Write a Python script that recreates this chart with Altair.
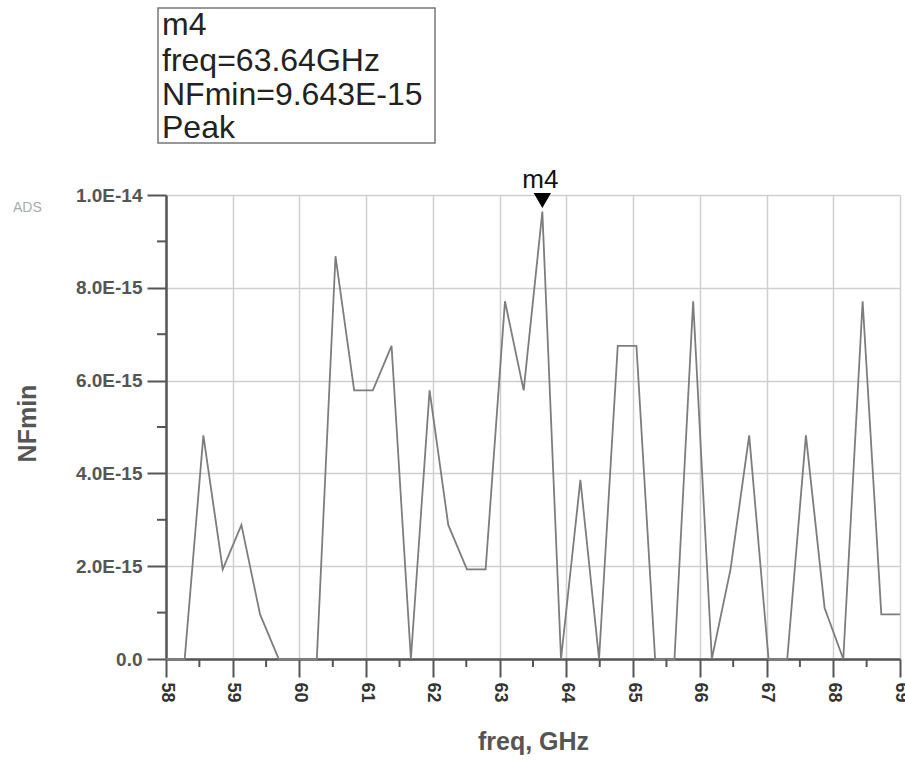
import altair as alt
import pandas as pd

# ---- data ----
freq_ghz = [58.00, 58.28, 58.56, 58.85, 59.13, 59.41, 59.69, 59.97, 60.26, 60.54,
            60.82, 61.10, 61.38, 61.67, 61.95, 62.23, 62.51, 62.79, 63.08, 63.36,
            63.64, 63.92, 64.21, 64.49, 64.77, 65.05, 65.33, 65.62, 65.90, 66.18,
            66.46, 66.74, 67.03, 67.31, 67.59, 67.87, 68.15, 68.44, 68.72, 69.00]
nfmin = [0.0, 0.0, 4.82e-15, 1.93e-15, 2.89e-15, 0.96e-15, 0.0, 0.0, 0.0, 8.68e-15,
         5.79e-15, 5.79e-15, 6.75e-15, 0.0, 5.79e-15, 2.89e-15, 1.93e-15, 1.93e-15, 7.71e-15, 5.79e-15,
         9.643e-15, 0.0, 3.86e-15, 0.0, 6.75e-15, 6.75e-15, 0.0, 0.0, 7.71e-15, 0.0,
         1.93e-15, 4.82e-15, 0.0, 0.0, 4.82e-15, 1.1e-15, 0.0, 7.71e-15, 0.96e-15, 0.96e-15]

x_ticks = [58, 59, 60, 61, 62, 63, 64, 65, 66, 67, 68, 69]
x_minor = [58.5, 59.5, 60.5, 61.5, 62.5, 63.5, 64.5, 65.5, 66.5, 67.5, 68.5]
y_ticks = [0.0, 2e-15, 4e-15, 6e-15, 8e-15, 1e-14]
y_minor = [1e-15, 3e-15, 5e-15, 7e-15, 9e-15]

marker_name = "m4"
marker_freq = [63.64]
marker_value = [9.643e-15]
box_lines = ["m4", "freq=63.64GHz", "NFmin=9.643E-15", "Peak"]

FONT = "Liberation Sans"

df = pd.DataFrame({"freq": freq_ghz, "nf": nfmin})

xscale = alt.Scale(domain=[58, 69], nice=False, zero=False)
yscale = alt.Scale(domain=[0, 1e-14], nice=False, zero=False)

xaxis = alt.Axis(
    values=x_ticks, format="d", labelAngle=90, labelAlign="center", labelBaseline="middle",
    labelFontSize=18, labelFontWeight="bold", labelColor="#333", labelPadding=15,
    labelFlush=False, labelOverlap=False,
    tickSize=18, tickColor="#555", tickWidth=2,
    domainColor="#555", domainWidth=2.5,
    grid=True, gridColor="#cfcfcf", gridWidth=1.5,
    title="freq, GHz", titleFontSize=25, titleFontWeight="bold", titleColor="#555",
    titleX=367, titleY=82, titleAlign="center", titleBaseline="middle",
)
yaxis = alt.Axis(
    values=y_ticks,
    labelExpr="datum.value == 0 ? '0.0' : upper(format(datum.value, '.1e'))",
    labelFontSize=19, labelFontWeight="bold", labelColor="#555", labelPadding=5,
    labelFlush=False, labelOverlap=False,
    tickSize=19, tickColor="#555", tickWidth=2,
    domainColor="#555", domainWidth=2.5,
    grid=True, gridColor="#cfcfcf", gridWidth=1.5,
    title="NFmin", titleFontSize=25, titleFontWeight="bold", titleColor="#555",
    titleAngle=270, titleX=-139, titleY=228, titleAlign="center", titleBaseline="middle",
)

X = alt.X("freq:Q", scale=xscale, axis=xaxis)
Y = alt.Y("nf:Q", scale=yscale, axis=yaxis)

line = alt.Chart(df).mark_line(color="#7d7d7d", strokeWidth=1.8).encode(x=X, y=Y)

xminor = alt.Chart(pd.DataFrame({"freq": x_minor})).mark_rule(color="#555", strokeWidth=2).encode(
    x=X, y=alt.value(464), y2=alt.value(472))
yminor = alt.Chart(pd.DataFrame({"nf": y_minor})).mark_rule(color="#555", strokeWidth=2).encode(
    y=Y, x=alt.value(-9), x2=alt.value(0))

mdf = pd.DataFrame({"freq": marker_freq, "nf": marker_value, "name": [marker_name]})
marker = alt.Chart(mdf).mark_point(shape="triangle-down", filled=True, color="black",
                                   size=300, opacity=1, yOffset=-11).encode(x=X, y=Y)
marker_label = alt.Chart(mdf).mark_text(fontSize=26, font=FONT, color="#111", align="center",
                                        baseline="alphabetic", dx=-2).encode(
    x=X, y=alt.value(-7), text="name:N")

box = alt.Chart(pd.DataFrame({"a": [0]})).mark_rect(fill="white", stroke="#777", strokeWidth=1.5).encode(
    x=alt.value(-8), x2=alt.value(269), y=alt.value(-187), y2=alt.value(-52))

line_y = [-160, -124, -90, -57]
box_texts = [
    alt.Chart(pd.DataFrame({"t": [txt]})).mark_text(fontSize=32, font=FONT, color="#222",
                                                      align="left", baseline="alphabetic").encode(
        x=alt.value(-4), y=alt.value(yy), text="t:N")
    for txt, yy in zip(box_lines, line_y)
]

ads = alt.Chart(pd.DataFrame({"t": ["ADS"]})).mark_text(fontSize=14, font=FONT, color="#aaa",
                                                         align="left", baseline="middle").encode(
    x=alt.value(-153), y=alt.value(13), text="t:N")

chart = alt.layer(line, xminor, yminor, marker, marker_label, box, *box_texts, ads).properties(
    width=734, height=464,
    padding={"left": 166, "top": 195, "right": 5, "bottom": 102},
    autosize=alt.AutoSizeParams(type="none"),
).configure_view(stroke="#777", strokeWidth=1.5).configure(font=FONT)

chart.save("out.html", embed_options={"renderer": "svg", "actions": False})
